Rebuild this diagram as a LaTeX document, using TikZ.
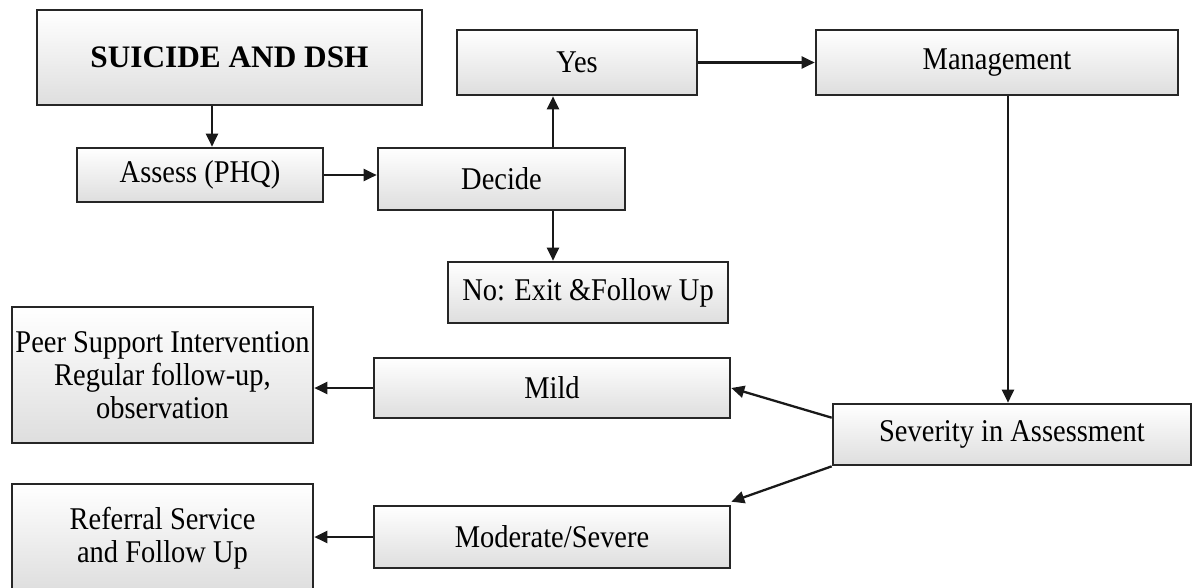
\documentclass[tikz,border=0pt]{standalone}
\usepackage{fontspec}
\setmainfont{Liberation Serif}
\newfontfamily\boxfont{Liberation Serif}[FakeStretch=0.9]
\usepackage{tikz}
\usetikzlibrary{arrows.meta,positioning,calc}

\begin{document}
\begin{tikzpicture}[
		box/.style={draw=black!85, line width=1.5pt, top color=white, bottom color=gray!26,
			inner sep=0pt, align=center, font=\boxfont\fontsize{18}{18.8}\selectfont},
		arr/.style={draw=black!90, line width=1.3pt, -{Triangle[length=0.26cm,width=0.24cm]}}
	]
		\useasboundingbox (0,0) rectangle (23.84,-11.74);
		
		% Boites du haut
		\node[box, minimum width=7.7cm, minimum height=1.9cm,
		font=\bfseries\fontsize{17.8}{20}\selectfont] (suicide) at (4.59,-1.15) {SUICIDE AND DSH};
		\node[box, minimum width=4.92cm, minimum height=1.08cm] (assess) at (4.00,-3.50) {Assess (PHQ)};
		\node[box, minimum width=4.94cm, minimum height=1.24cm] (decide) at (10.03,-3.58) {Decide};
		\node[box, minimum width=4.80cm, minimum height=1.30cm] (yes) at (11.54,-1.25) {Yes};
		\node[box, minimum width=7.24cm, minimum height=1.30cm] (mgmt) at (19.94,-1.25) {Management};
		\node[box, minimum width=5.60cm, minimum height=1.22cm] (no) at (11.76,-5.85) {No: Exit \&Follow Up};
		
		% Gravite
		\node[box, minimum width=7.16cm, minimum height=1.22cm] (severity) at (20.24,-8.69) {Severity in Assessment};
		\node[box, minimum width=7.12cm, minimum height=1.20cm] (mild) at (11.04,-7.76) {Mild};
		\node[box, minimum width=7.12cm, minimum height=1.24cm] (mod) at (11.04,-10.74) {Moderate/Severe};
		\node[box, minimum width=6.02cm, minimum height=2.72cm] (peer) at (3.25,-7.50)
		{Peer Support Intervention\\Regular follow-up,\\observation};
		\node[box, minimum width=6.02cm, minimum height=2.16cm] (referral) at (3.25,-10.76)
		{Referral Service\\and Follow Up};
		
		% Fleches
		\coordinate (c1) at (4.24,0);
		\coordinate (c2) at (11.06,0);
		\coordinate (c3) at (20.16,0);
		\draw[arr] (c1 |- suicide.south) -- (c1 |- assess.north);
		\draw[arr] (assess.east) -- (assess.east -| decide.west);
		\draw[arr] (c2 |- decide.north) -- (c2 |- yes.south);
		\draw[arr] (c2 |- decide.south) -- (c2 |- no.north);
		\draw[arr] (yes.east) -- (yes.east -| mgmt.west);
		\draw[arr] (c3 |- mgmt.south) -- (c3 |- severity.north);
		\draw[arr] ([yshift=-0.3cm]severity.north west) -- (mild.east);
		\draw[arr] (severity.south west) -- ([yshift=0.06cm]mod.north east);
		\draw[arr] (mild.west) -- (mild.west -| peer.east);
		\draw[arr] (mod.west) -- (mod.west -| referral.east);
	\end{tikzpicture}
\end{document}
